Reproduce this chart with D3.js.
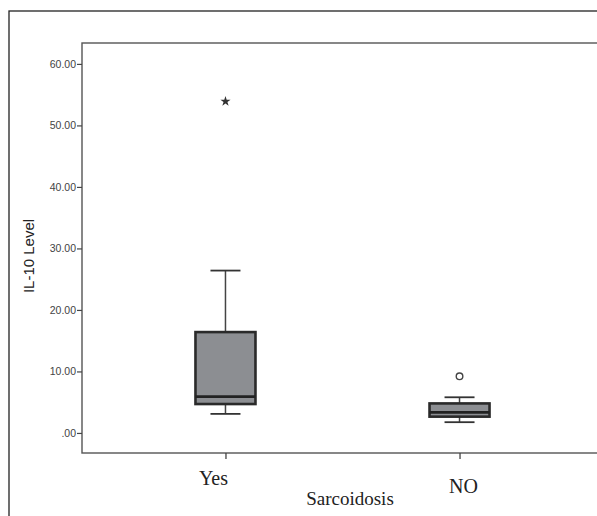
<!DOCTYPE html>
<html>
<head>
<meta charset="utf-8">
<script src="https://cdn.jsdelivr.net/npm/d3@7"></script>
<style>
  body { margin: 0; background: #fff; }
  .tick text { font-family: Arial, "Liberation Sans", sans-serif; }
</style>
</head>
<body>
<div id="plotArea"></div>
<script>
// Data
const groups = ["Yes", "NO"];
const q1 = [4.7, 2.65];
const medians = [5.9, 3.35];
const q3 = [16.4, 4.8];
const whiskLow = [3.1, 1.75];
const whiskHigh = [26.4, 5.8];
const outliers = [[53.9], [9.2]];
const outlierKind = ["star", "circle"];
const yTicks = [0, 10, 20, 30, 40, 50, 60];

const W = 597, H = 516;
const plot = {left: 82, top: 43, right: 603, bottom: 453};

const svg = d3.select("#plotArea").append("svg")
    .attr("width", W)
    .attr("height", H);

// outer frame (runs off the right / bottom edge)
svg.append("rect")
    .attr("x", 9).attr("y", 11)
    .attr("width", 700).attr("height", 600)
    .attr("fill", "none")
    .attr("stroke", "#222")
    .attr("stroke-width", 1.3);

let x = d3.scalePoint()
    .domain(groups)
    .range([plot.left, plot.right])
    .padding(0.613);
let y = d3.scaleLinear()
    .domain([-3.26, 63.4])
    .range([plot.bottom, plot.top]);

// inner plot frame
svg.append("rect")
    .attr("x", plot.left).attr("y", plot.top)
    .attr("width", plot.right - plot.left + 20)
    .attr("height", plot.bottom - plot.top)
    .attr("fill", "none")
    .attr("stroke", "#555")
    .attr("stroke-width", 1.4);

// y axis
let yAxis = d3.axisLeft(y)
    .tickValues(yTicks)
    .tickSize(5)
    .tickPadding(1)
    .tickFormat(d => d === 0 ? ".00" : d3.format(".2f")(d));
let gy = svg.append("g")
    .attr("transform", "translate(" + plot.left + ",0)")
    .call(yAxis);
gy.select(".domain").remove();
gy.selectAll("line").attr("stroke", "#444").attr("stroke-width", 1.2);
gy.selectAll("text").attr("fill", "#444").style("font-size", "10.5px");

// x axis ticks
let xAxis = d3.axisBottom(x).tickSize(6).tickFormat("");
let gx = svg.append("g")
    .attr("transform", "translate(0," + plot.bottom + ")")
    .call(xAxis);
gx.select(".domain").remove();
gx.selectAll("line").attr("stroke", "#444").attr("stroke-width", 1.3);

// category labels (serif, slightly offset as in original)
const labelShift = [[-12, 485], [4, 493]];
svg.selectAll(".cat")
    .data(groups)
    .enter().append("text")
    .attr("class", "cat")
    .attr("x", (d, i) => x(d) + labelShift[i][0])
    .attr("y", (d, i) => labelShift[i][1])
    .attr("text-anchor", "middle")
    .style("font-family", "'Liberation Serif', 'Times New Roman', serif")
    .style("font-size", "20px")
    .attr("fill", "#222")
    .text(d => d);

svg.append("text")
    .attr("x", 350).attr("y", 505)
    .attr("text-anchor", "middle")
    .style("font-family", "'Liberation Serif', 'Times New Roman', serif")
    .style("font-size", "19px")
    .attr("fill", "#222")
    .text("Sarcoidosis");

svg.append("text")
    .attr("transform", "translate(34,256) rotate(-90)")
    .attr("text-anchor", "middle")
    .style("font-family", "Arial, 'Liberation Sans', sans-serif")
    .style("font-size", "15px")
    .attr("fill", "#222")
    .text("IL-10 Level");

// boxes
const boxW = 60, capW = 30;
let boxes = svg.selectAll(".box")
    .data(groups)
    .enter().append("g")
    .attr("class", "box");

boxes.append("line")
    .attr("x1", d => x(d)).attr("x2", d => x(d))
    .attr("y1", (d, i) => y(whiskHigh[i]))
    .attr("y2", (d, i) => y(q3[i]))
    .attr("stroke", "#444").attr("stroke-width", 1.5);
boxes.append("line")
    .attr("x1", d => x(d)).attr("x2", d => x(d))
    .attr("y1", (d, i) => y(q1[i]))
    .attr("y2", (d, i) => y(whiskLow[i]))
    .attr("stroke", "#444").attr("stroke-width", 1.5);
[whiskHigh, whiskLow].forEach(arr => {
    boxes.append("line")
        .attr("x1", d => x(d) - capW / 2).attr("x2", d => x(d) + capW / 2)
        .attr("y1", (d, i) => y(arr[i]))
        .attr("y2", (d, i) => y(arr[i]))
        .attr("stroke", "#333").attr("stroke-width", 1.8);
});
boxes.append("rect")
    .attr("x", d => x(d) - boxW / 2)
    .attr("width", boxW)
    .attr("y", (d, i) => y(q3[i]))
    .attr("height", (d, i) => y(q1[i]) - y(q3[i]))
    .attr("fill", "#8c8e92")
    .attr("stroke", "#2a2a2a")
    .attr("stroke-width", 2.6);
boxes.append("line")
    .attr("x1", d => x(d) - boxW / 2).attr("x2", d => x(d) + boxW / 2)
    .attr("y1", (d, i) => y(medians[i]))
    .attr("y2", (d, i) => y(medians[i]))
    .attr("stroke", "#222").attr("stroke-width", 2.6);

// outliers
groups.forEach((g, i) => {
    outliers[i].forEach(v => {
        if (outlierKind[i] === "star") {
            svg.append("path")
                .attr("d", d3.symbol().type(d3.symbolStar).size(32)())
                .attr("transform", "translate(" + x(g) + "," + y(v) + ")")
                .attr("fill", "#333");
        } else {
            svg.append("circle")
                .attr("cx", x(g)).attr("cy", y(v))
                .attr("r", 3.3)
                .attr("fill", "#fff")
                .attr("stroke", "#444")
                .attr("stroke-width", 1.4);
        }
    });
});
</script>
</body>
</html>
